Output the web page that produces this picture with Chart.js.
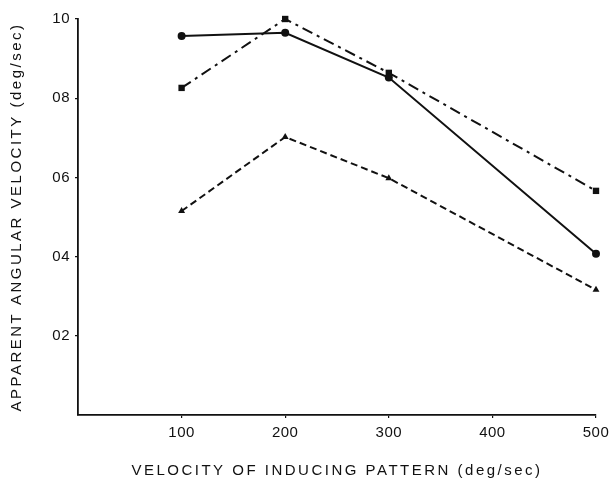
<!DOCTYPE html>
<html>
<head>
<meta charset="utf-8">
<script src="https://cdn.jsdelivr.net/npm/chart.js@4"></script>
<style>
  html, body { margin: 0; padding: 0; background: #fff; }
  #wrap { width: 615px; height: 481px; }
</style>
</head>
<body>
<div id="wrap"><canvas id="chart"></canvas></div>
<script>
// inducing pattern velocity (deg/sec)
const xValues = [100, 200, 300, 500];
// apparent angular velocity (deg/sec), one array per curve
const circleSeries = [0.957, 0.965, 0.852, 0.407];
const squareSeries = [0.826, 1.0, 0.864, 0.566];
const triangleSeries = [0.515, 0.702, 0.598, 0.316];

const xTickValues = [100, 200, 300, 400, 500];
const xTickLabels = ["100", "200", "300", "400", "500"];
const yTickValues = [0.2, 0.4, 0.6, 0.8, 1.0];
const yTickLabels = ["02", "04", "06", "08", "10"];

const xTitle = "VELOCITY OF INDUCING PATTERN (deg/sec)";
const yTitle = "APPARENT ANGULAR VELOCITY (deg/sec)";

const toPoints = (ys) => ys.map((y, i) => ({ x: xValues[i], y: y }));

const font = "'Liberation Sans', Arial, sans-serif";
const ink = "#111";

function series(data, style, dash) {
  return {
    data: toPoints(data),
    borderColor: ink,
    backgroundColor: ink,
    borderWidth: 2,
    borderDash: dash,
    pointStyle: style,
    pointRadius: style === "rect" ? 4.5 : 4,
    pointBorderWidth: 0,
    tension: 0,
    clip: false,
  };
}

// titles are drawn in the grid layer (before datasets) -> letter spacing only for them
const spacing = {
  id: "spacing",
  beforeDraw(chart) { chart.ctx.letterSpacing = "2.5px"; },
  beforeDatasetsDraw(chart) { chart.ctx.letterSpacing = "0.5px"; },
};

new Chart(document.getElementById("chart"), {
  type: "line",
  data: {
    datasets: [
      series(circleSeries, "circle", []),
      series(squareSeries, "rect", [11, 5, 3, 5]),
      series(triangleSeries, "triangle", [7, 4]),
    ],
  },
  options: {
    responsive: true,
    maintainAspectRatio: false,
    animation: false,
    layout: { padding: { top: 19, right: 19, left: 0, bottom: 0 } },
    plugins: { legend: { display: false }, tooltip: { enabled: false } },
    scales: {
      x: {
        type: "linear",
        min: 0,
        max: 500,
        afterBuildTicks: (s) => { s.ticks = xTickValues.map((v) => ({ value: v })); },
        afterFit: (s) => { s.height = 66; s.paddingLeft = 0; s.paddingRight = 0; },
        grid: { drawOnChartArea: false, drawTicks: true, tickLength: 3, color: ink, lineWidth: 1.2 },
        border: { display: true, color: ink, width: 1.8 },
        ticks: {
          z: 1,
          padding: 6,
          maxRotation: 0,
          color: ink,
          font: { family: font, size: 15 },
          callback: (v) => xTickLabels[xTickValues.indexOf(v)],
        },
        title: {
          display: true,
          text: xTitle,
          color: ink,
          font: { family: font, size: 15 },
          padding: { top: 0, bottom: 1 },
        },
      },
      y: {
        min: 0,
        max: 1.0,
        afterBuildTicks: (s) => { s.ticks = yTickValues.map((v) => ({ value: v })); },
        afterFit: (s) => { s.width = 78; s.paddingTop = 0; s.paddingBottom = 0; },
        grid: { drawOnChartArea: false, drawTicks: true, tickLength: 3, color: ink, lineWidth: 1.2 },
        border: { display: true, color: ink, width: 1.8 },
        ticks: {
          z: 1,
          padding: 5,
          color: ink,
          font: { family: font, size: 15 },
          callback: (v) => yTickLabels[yTickValues.indexOf(v)],
        },
        title: {
          display: true,
          text: yTitle,
          color: ink,
          font: { family: font, size: 15 },
          padding: { top: 8, bottom: 0 },
        },
      },
    },
  },
  plugins: [spacing],
});
</script>
</body>
</html>
